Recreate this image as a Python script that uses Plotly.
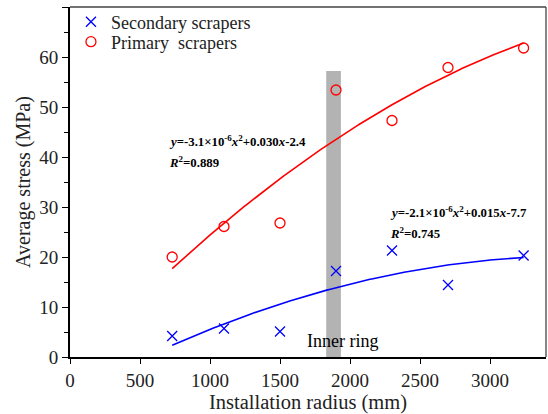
import numpy as np
import plotly.graph_objects as go

radius = [730, 1100, 1500, 1900, 2300, 2700, 3240]
secondary = [4.2, 5.7, 5.1, 17.2, 21.3, 14.4, 20.3]
primary = [20.0, 26.1, 26.8, 53.4, 47.3, 57.9, 61.8]
inner_ring_x = [1830, 1935]
inner_ring_top = 57.2

FONT = "Liberation Serif"

xs = np.linspace(min(radius), max(radius), 200)
fit_s = np.polyval(np.polyfit(radius, secondary, 2), xs)
fit_p = np.polyval(np.polyfit(radius, primary, 2), xs)

fig = go.Figure()
fig.add_shape(type="rect", xref="x", yref="y", x0=inner_ring_x[0], x1=inner_ring_x[1],
              y0=0, y1=inner_ring_top, fillcolor="#b3b3b3", line=dict(width=0), layer="below")
fig.add_trace(go.Scatter(x=xs, y=fit_s, mode="lines", line=dict(color="#0000ff", width=1.6),
                         showlegend=False, hoverinfo="skip"))
fig.add_trace(go.Scatter(x=xs, y=fit_p, mode="lines", line=dict(color="#ff0000", width=1.6),
                         showlegend=False, hoverinfo="skip"))
fig.add_trace(go.Scatter(x=radius, y=secondary, mode="markers", name="Secondary scrapers", legend="legend",
                         marker=dict(symbol="x-thin", size=10, line=dict(color="#0000ff", width=1.3))))
fig.add_trace(go.Scatter(x=radius, y=primary, mode="markers", name="Primary  scrapers", legend="legend2",
                         marker=dict(symbol="circle-open", size=10, color="#ff0000", line=dict(width=1.3))))

ann_font = dict(family=FONT, size=12.8, color="black")
fig.add_annotation(x=693, y=43.2, xref="x", yref="y", xanchor="left", yanchor="middle", showarrow=False,
                   text="<b><i>y</i>=-3.1×10<sup>-6</sup><i>x</i><sup>2</sup>+0.030<i>x</i>-2.4</b>",
                   font=ann_font)
fig.add_annotation(x=693, y=39.0, xref="x", yref="y", xanchor="left", yanchor="middle", showarrow=False,
                   text="<b><i>R</i><sup>2</sup>=0.889</b>", font=ann_font)
fig.add_annotation(x=2271, y=29.1, xref="x", yref="y", xanchor="left", yanchor="middle", showarrow=False,
                   text="<b><i>y</i>=-2.1×10<sup>-6</sup><i>x</i><sup>2</sup>+0.015<i>x</i>-7.7</b>",
                   font=ann_font)
fig.add_annotation(x=2271, y=24.9, xref="x", yref="y", xanchor="left", yanchor="middle", showarrow=False,
                   text="<b><i>R</i><sup>2</sup>=0.745</b>", font=ann_font)
fig.add_annotation(x=1679, y=3.2, xref="x", yref="y", xanchor="left", yanchor="middle", showarrow=False,
                   text="Inner ring", font=dict(family=FONT, size=18, color="black"))

tickfont = dict(family=FONT, size=19, color="#222")
legfont = dict(family=FONT, size=18, color="#222")
fig.update_layout(
    width=548, height=414,
    margin=dict(l=70, r=2, t=7, b=57, autoexpand=False),
    paper_bgcolor="white", plot_bgcolor="white",
    font=dict(family=FONT, size=18, color="#222"),
    legend=dict(x=0.002, y=0.957, xanchor="left", yanchor="middle", bgcolor="rgba(0,0,0,0)", font=legfont),
    legend2=dict(x=0.002, y=0.9, xanchor="left", yanchor="middle", bgcolor="rgba(0,0,0,0)", font=legfont),
    xaxis=dict(range=[0, 3400], tickvals=[0, 500, 1000, 1500, 2000, 2500, 3000],
               ticks="outside", ticklen=5, tickcolor="black", tickwidth=1.2, tickfont=tickfont,
               showline=True, linecolor="black", linewidth=2, mirror=False,
               showgrid=False, zeroline=False, automargin=False,
               title=dict(text="Installation radius (mm)", font=dict(family=FONT, size=20.5, color="#222"), standoff=5)),
    yaxis=dict(range=[0, 70], dtick=10, ticks="outside", ticklen=6, tickcolor="black", tickwidth=1.2,
               tickfont=tickfont,
               minor=dict(dtick=5, ticks="outside", ticklen=4, tickcolor="black", tickwidth=1.2),
               showline=True, linecolor="black", linewidth=2, mirror=False,
               showgrid=False, zeroline=False, automargin=False,
               title=dict(text="Average stress (MPa)", font=dict(family=FONT, size=20, color="#222"), standoff=3)),
)
fig.add_shape(type="line", xref="paper", yref="paper", x0=0, x1=1, y0=1, y1=1,
              line=dict(color="#444", width=1.3))
fig.add_shape(type="line", xref="paper", yref="paper", x0=1, x1=1, y0=0, y1=1,
              line=dict(color="#444", width=1.3))

fig.write_html("out.html", config={"displayModeBar": False},
               post_script="document.body.style.margin='0px';document.body.style.overflow='hidden';")
